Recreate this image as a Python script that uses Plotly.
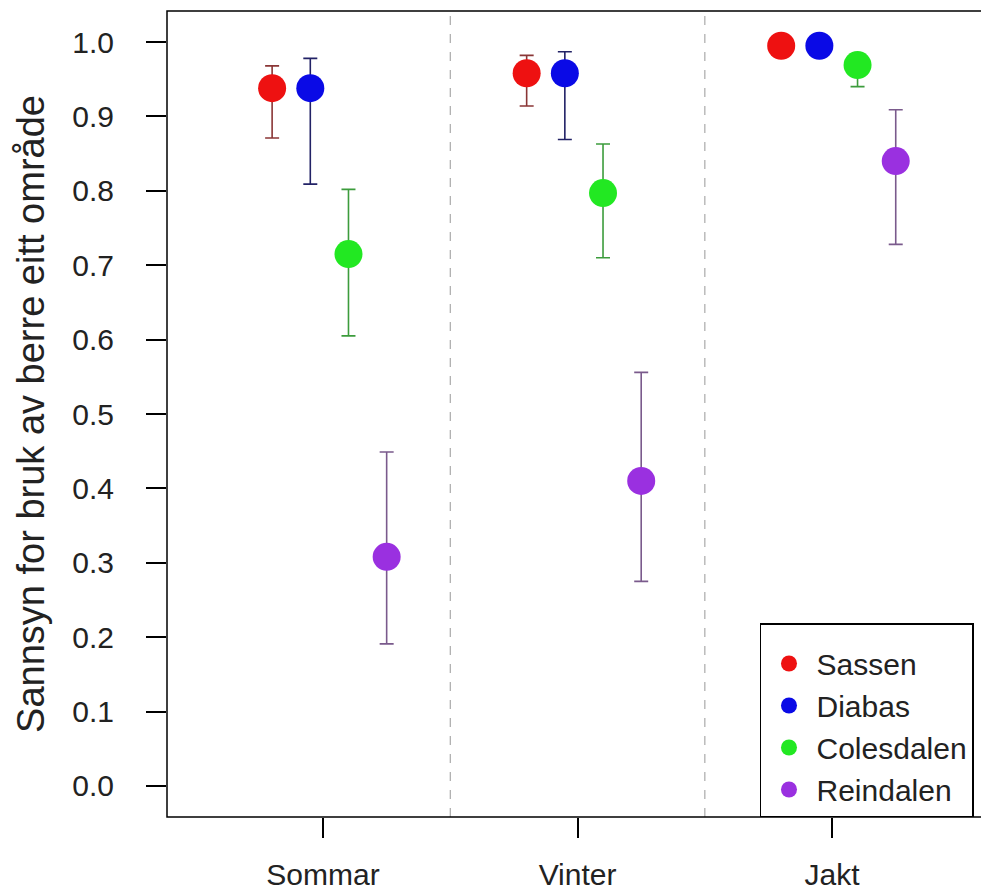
import plotly.graph_objects as go

# ---- data ----
groups = ["Sommar", "Vinter", "Jakt"]
areas = ["Sassen", "Diabas", "Colesdalen", "Reindalen"]
offsets = [-0.2, -0.05, 0.1, 0.25]

sassen_est = [0.938, 0.958, 0.995]
sassen_low = [0.871, 0.914, 0.985]
sassen_up = [0.968, 0.982, 0.998]

diabas_est = [0.938, 0.958, 0.995]
diabas_low = [0.809, 0.869, 0.985]
diabas_up = [0.978, 0.987, 0.998]

coles_est = [0.715, 0.797, 0.969]
coles_low = [0.605, 0.710, 0.940]
coles_up = [0.802, 0.863, 0.976]

rein_est = [0.308, 0.410, 0.840]
rein_low = [0.191, 0.275, 0.728]
rein_up = [0.449, 0.556, 0.909]

separators = [1.5, 2.5]
yticks = [0.0, 0.1, 0.2, 0.3, 0.4, 0.5, 0.6, 0.7, 0.8, 0.9, 1.0]

# ---- styles ----
marker_colors = ["#ee1111", "#0a0ae6", "#22e822", "#9a30e0"]
bar_colors = ["#8a3636", "#222266", "#3c9c3c", "#7a5a8c"]

series = [
    (sassen_est, sassen_low, sassen_up),
    (diabas_est, diabas_low, diabas_up),
    (coles_est, coles_low, coles_up),
    (rein_est, rein_low, rein_up),
]

fig = go.Figure()
for i, (name, (est, low, up)) in enumerate(zip(areas, series)):
    xs = [g + 1 + offsets[i] for g in range(len(groups))]
    fig.add_trace(go.Scatter(
        x=xs, y=est, mode="markers", name=name,
        marker=dict(size=28, color=marker_colors[i], symbol="circle",
                    line=dict(width=0)),
        error_y=dict(type="data", symmetric=False,
                     array=[u - e for u, e in zip(up, est)],
                     arrayminus=[e - l for e, l in zip(est, low)],
                     color=bar_colors[i], thickness=1.6, width=7),
    ))

shapes = [dict(type="rect", xref="paper", yref="paper", x0=0, x1=1.05, y0=0, y1=1,
               line=dict(color="black", width=1.5), layer="above")]
for s in separators:
    shapes.append(dict(type="line", xref="x", yref="paper", x0=s, x1=s, y0=0, y1=1,
                       line=dict(color="#aaaaaa", width=1.2, dash="dash"), layer="below"))

font_family = "Liberation Sans, Arial, sans-serif"
fig.update_layout(
    width=981, height=892,
    margin=dict(l=167, r=0, t=11, b=75, autoexpand=False),
    paper_bgcolor="white", plot_bgcolor="white",
    font=dict(family=font_family, color="#222222"),
    shapes=shapes,
    showlegend=True,
    legend=dict(x=0.7285, xanchor="left", y=0, yanchor="bottom",
                bgcolor="white", bordercolor="black", borderwidth=1.5,
                font=dict(size=30, family=font_family, color="#222222"),
                title=dict(text=" ", font=dict(size=10)),
                tracegroupgap=0, itemsizing="trace", itemwidth=45),
)
fig.update_xaxes(range=[0.387, 3.585], tickmode="array", tickvals=[1, 2, 3],
                 ticktext=groups, ticks="outside", ticklen=20, tickwidth=1.5,
                 tickcolor="black", showgrid=False, zeroline=False, showline=False,
                 tickfont=dict(size=30), ticklabelstandoff=11, automargin=False)
fig.update_yaxes(range=[-0.0417, 1.0417], tickmode="array", tickvals=yticks,
                 ticktext=[f"{v:.1f}" for v in yticks],
                 ticks="outside", ticklen=20, tickwidth=1.5, tickcolor="black",
                 showgrid=False, zeroline=False, showline=False,
                 tickfont=dict(size=30), ticklabelstandoff=26, automargin=False,
                 title=dict(text="Sannsyn for bruk av berre eitt område",
                            font=dict(size=38), standoff=15))

fig.write_html(
    "out.html",
    config={"displayModeBar": False},
    post_script="document.body.style.margin='0';document.body.style.overflow='hidden';",
)
